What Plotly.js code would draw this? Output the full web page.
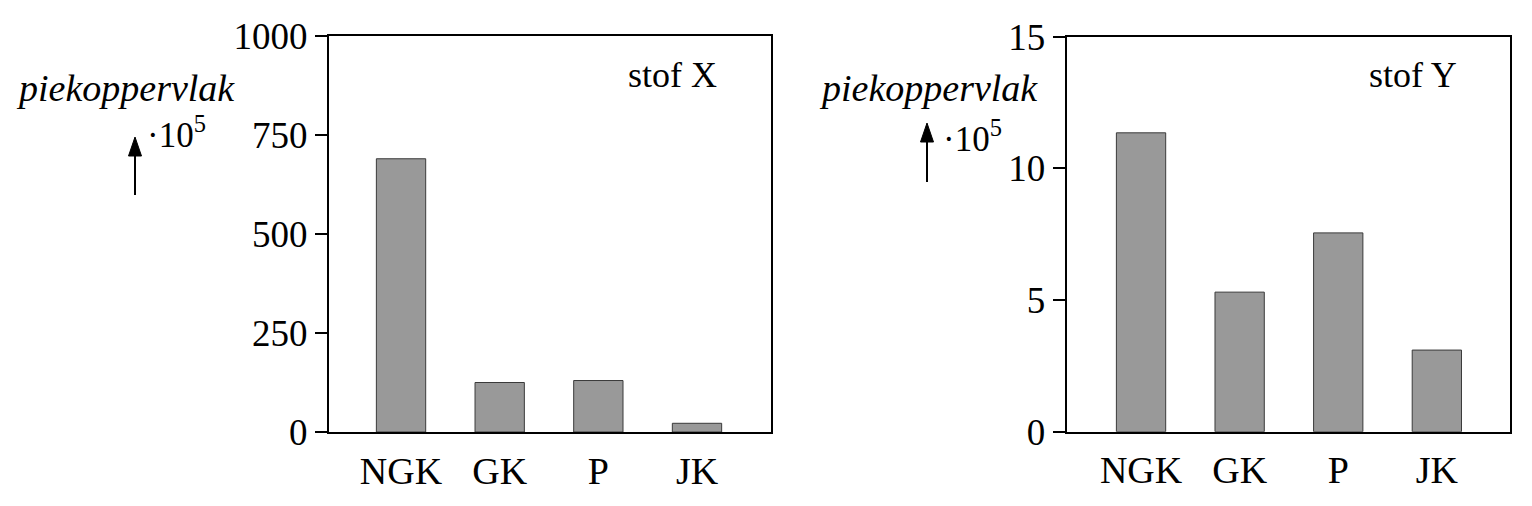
<!DOCTYPE html>
<html>
<head>
<meta charset="utf-8">
<script src="https://cdn.plot.ly/plotly-3.0.1.min.js"></script>
<style>html,body{margin:0;padding:0;background:#fff;}#chart{width:1532px;height:506px;}</style>
</head>
<body>
<div id="chart"></div>
<script>
const categories = ["NGK", "GK", "P", "JK"];
const valuesX = [690, 125, 130, 22];
const valuesY = [11.35, 5.3, 7.55, 3.1];
const yTicksX = [0, 250, 500, 750, 1000];
const yTicksY = [0, 5, 10, 15];

const W = 1532, H = 506;
const px = v => v / W;
const py = v => 1 - v / H;
const FONT = "Liberation Serif";
const idx = categories.map((c, i) => i);

const barStyle = {
  type: "bar",
  width: 0.5,
  marker: {color: "#999999", line: {color: "#3a3a3a", width: 1}},
  hoverinfo: "skip",
  showlegend: false
};

const traces = [
  Object.assign({}, barStyle, {x: idx, y: valuesX, xaxis: "x", yaxis: "y"}),
  Object.assign({}, barStyle, {x: idx, y: valuesY, xaxis: "x2", yaxis: "y2"})
];

const xBase = {
  tickvals: idx, ticktext: categories, ticks: "", showline: true, mirror: true,
  linecolor: "#000", linewidth: 2, showgrid: false, zeroline: false,
  ticklabelstandoff: 4,
  tickfont: {family: FONT, size: 38, color: "#000"}, fixedrange: true
};
const yBase = {
  ticks: "outside", ticklen: 12, tickwidth: 2, tickcolor: "#000",
  showline: true, mirror: true, linecolor: "#000", linewidth: 2,
  showgrid: false, zeroline: false,
  tickfont: {family: FONT, size: 37, color: "#000"}, fixedrange: true
};

function arrowShapes(x, tip, bottom) {
  return [
    {type: "line", xref: "paper", yref: "paper", x0: px(x), x1: px(x), y0: py(bottom), y1: py(tip + 14), line: {color: "#000", width: 2}},
    {type: "path", xref: "paper", yref: "paper",
     path: "M " + px(x) + " " + py(tip) + " L " + px(x - 6.5) + " " + py(tip + 19) + " L " + px(x + 6.5) + " " + py(tip + 19) + " Z",
     fillcolor: "#000", line: {color: "#000", width: 1}}
  ];
}

const italicFont = {family: FONT, size: 38, color: "#000", style: "italic"};

const layout = {
  width: W, height: H,
  margin: {l: 0, r: 0, t: 0, b: 0},
  paper_bgcolor: "#fff", plot_bgcolor: "#fff",
  xaxis: Object.assign({}, xBase, {domain: [px(329), px(771)], range: [-0.73, 3.75], anchor: "y"}),
  yaxis: Object.assign({}, yBase, {domain: [py(432), py(36)], range: [0, 1000], tickvals: yTicksX, anchor: "x"}),
  xaxis2: Object.assign({}, xBase, {domain: [px(1066.7), px(1510)], range: [-0.754, 3.742], anchor: "y2"}),
  yaxis2: Object.assign({}, yBase, {domain: [py(431.7), py(36.7)], range: [0, 15], tickvals: yTicksY, anchor: "x2"}),
  shapes: [].concat(arrowShapes(135, 137, 195), arrowShapes(927, 123, 182)),
  annotations: [
    {text: "piekoppervlak", xref: "paper", yref: "paper", x: px(125), y: py(88), showarrow: false, font: italicFont, xanchor: "center", yanchor: "middle"},
    {text: "·10<sup>5</sup>", xref: "paper", yref: "paper", x: px(145), y: py(132), showarrow: false, font: {family: FONT, size: 35, color: "#000"}, xanchor: "left", yanchor: "middle"},
    {text: "stof X", xref: "paper", yref: "paper", x: px(672), y: py(75), showarrow: false, font: {family: FONT, size: 36, color: "#000"}, xanchor: "center", yanchor: "middle"},
    {text: "piekoppervlak", xref: "paper", yref: "paper", x: px(928), y: py(88), showarrow: false, font: italicFont, xanchor: "center", yanchor: "middle"},
    {text: "·10<sup>5</sup>", xref: "paper", yref: "paper", x: px(941), y: py(136), showarrow: false, font: {family: FONT, size: 35, color: "#000"}, xanchor: "left", yanchor: "middle"},
    {text: "stof Y", xref: "paper", yref: "paper", x: px(1413), y: py(75), showarrow: false, font: {family: FONT, size: 36, color: "#000"}, xanchor: "center", yanchor: "middle"}
  ]
};

Plotly.newPlot("chart", traces, layout, {displayModeBar: false, staticPlot: true});
</script>
</body>
</html>
